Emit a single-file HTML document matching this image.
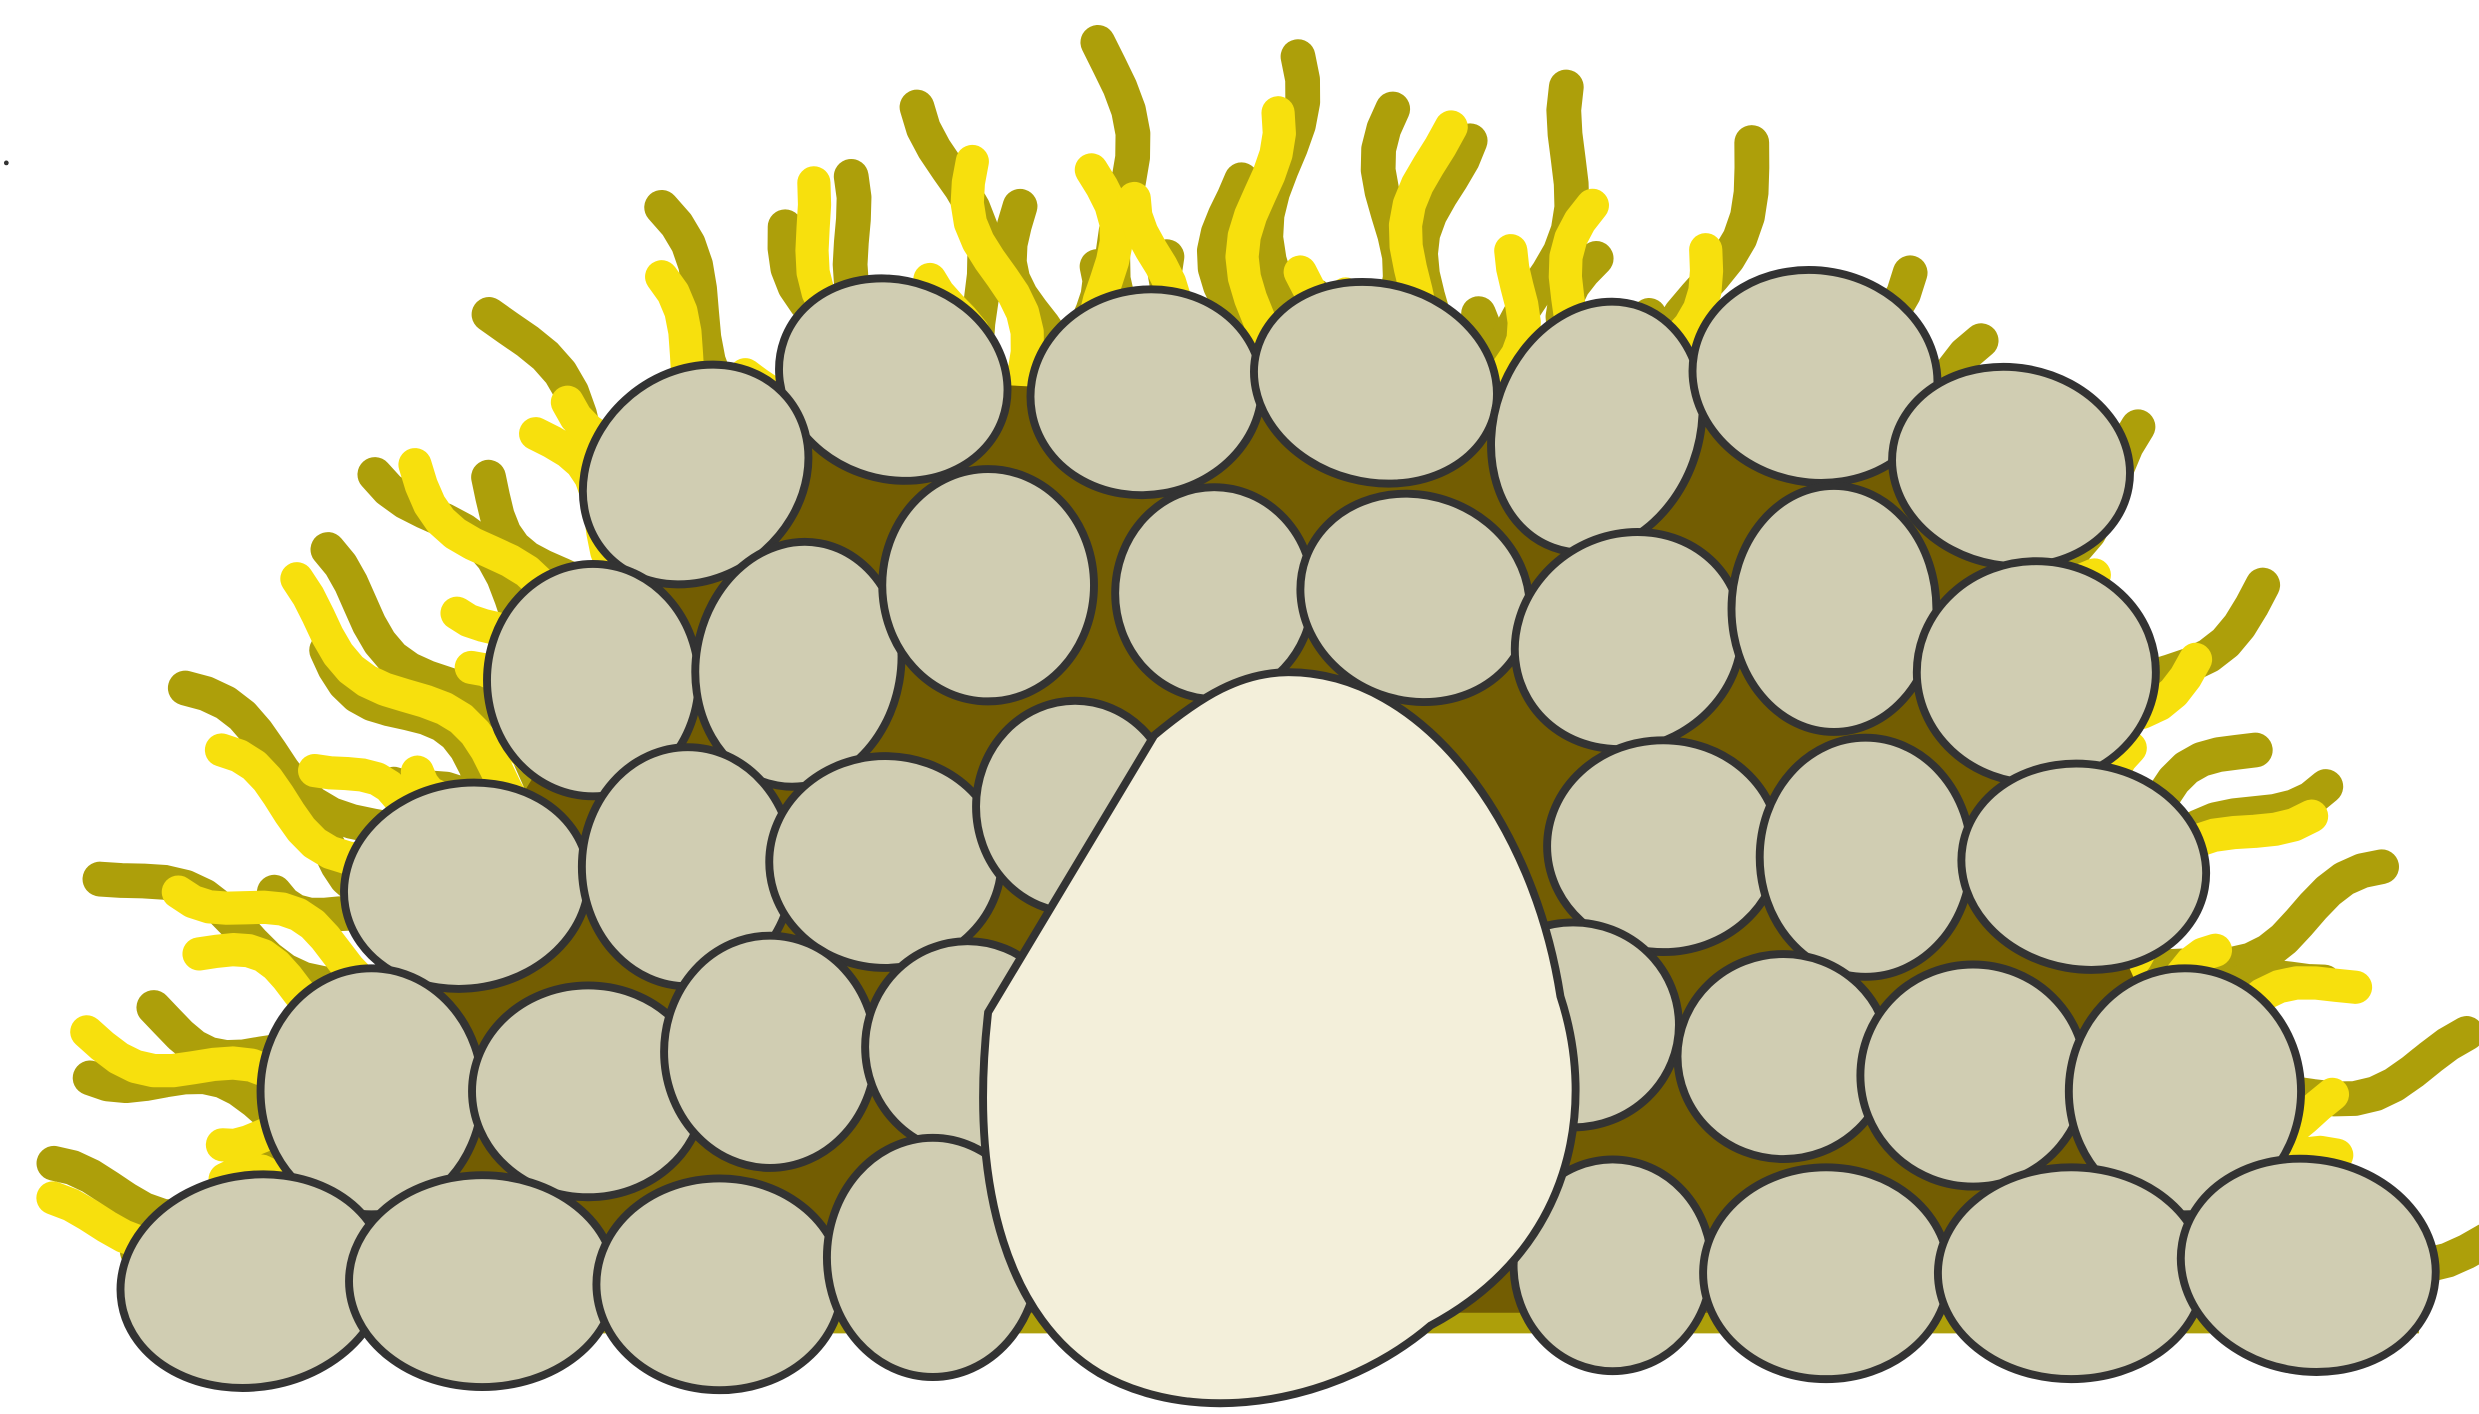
<!DOCTYPE html>
<html>
<head>
<meta charset="utf-8">
<style>
html,body{margin:0;padding:0;background:#fff;width:2479px;height:1414px;overflow:hidden}
svg{display:block}
</style>
</head>
<body>
<svg id="art" width="2479" height="1414" viewBox="0 0 1568 894" preserveAspectRatio="none" xmlns="http://www.w3.org/2000/svg">
  <g id="olive" fill="none" stroke="#ad9f0a" stroke-width="22" stroke-linecap="round" stroke-linejoin="round"></g>
  <g id="yellow" fill="none" stroke="#f7e00d" stroke-width="21" stroke-linecap="round" stroke-linejoin="round"></g>
  <line x1="90" y1="832" x2="1530" y2="832" stroke="#ad9f0a" stroke-width="22"/>
  <path fill="#735d02"
    d="M160,830 L160,810 L235,690 L295,560 L375,430 L440,300 L565,240 L725,248 L870,242 L1010,270 L1148,238 L1272,295 L1288,425 L1318,548 L1382,690 L1460,800 L1460,830 Z"/>
  <g id="cells" fill="#d0cdb2" stroke="#333" stroke-width="5"></g>
  <path fill="#f3efda" stroke="#333" stroke-width="5"
    d="M815,425 C900,425 970,520 987,630 C1010,700 995,790 905,838 C850,885 760,905 695,868 C640,835 612,755 625,640 L730,465 C760,440 785,425 815,425 Z"/>
  <circle cx="4" cy="103" r="1.5" fill="#333"/>
</svg>
<script>
var NS='http://www.w3.org/2000/svg';
function hairs(gid,count,cx,cy,rx0,ry0,rx1,ry1,a0,a1,phase){
  var g=document.getElementById(gid);
  for(var i=0;i<count;i++){
    var t=a0+(a1-a0)*i/(count-1);
    var dx=Math.sin(t),dy=-Math.cos(t);
    var px=-dy,py=dx;
    var d='';
    var var1=0.9+0.1*Math.sin(i*2.3+phase);
    for(var s=0;s<=24;s++){
      var f=s/24;
      var rx=rx0+(rx1*var1-rx0)*f, ry=ry0+(ry1*var1-ry0)*f;
      var off=11*Math.sin(f*Math.PI*4+i*1.7+phase);
      var x=cx+dx*rx+px*off, y=cy+dy*ry+py*off;
      d+=(s?'L':'M')+x.toFixed(1)+','+y.toFixed(1);
    }
    var p=document.createElementNS(NS,'path');
    p.setAttribute('d',d);
    
    
    g.appendChild(p);
  }
}
hairs('olive',62,795,860,480,480,790,840,-1.48,1.48,0);
hairs('yellow',60,780,855,470,470,755,790,-1.46,1.46,1.3);

var cells=[
 [565,240,68,58,20],[725,248,68,60,-10],[870,242,72,58,15],[1010,270,60,75,20],[1148,238,72,62,10],[440,300,70,60,-40],[1272,295,70,58,10],
 [375,430,62,68,0],[505,420,60,72,10],[625,370,62,68,0],[768,375,58,62,0],[895,378,68,60,20],[1030,405,68,62,-30],[1160,385,60,72,0],[1288,425,70,65,0],
 [295,560,72,60,-10],[435,548,62,70,0],[560,545,68,62,0],[680,510,58,62,0],[1052,535,68,62,0],[1180,542,62,70,0],[1318,548,72,60,10],
 [235,690,65,72,0],[372,690,68,62,0],[487,665,62,68,0],[612,662,60,62,0],[995,648,62,60,0],[1128,668,62,60,0],[1248,680,66,65,0],[1382,690,68,72,0],
 [160,810,78,62,-10],[305,810,78,62,0],[455,812,72,62,0],[590,795,62,70,0],[1020,800,58,62,0],[1155,805,72,62,0],[1310,805,78,62,0],[1460,800,75,62,10]
];
var cg=document.getElementById('cells');
cells.forEach(function(c){
  var e=document.createElementNS(NS,'ellipse');
  e.setAttribute('cx',c[0]);e.setAttribute('cy',c[1]);
  e.setAttribute('rx',c[2]*1.08);e.setAttribute('ry',c[3]*1.08);
  e.setAttribute('transform','rotate('+c[4]+' '+c[0]+' '+c[1]+')');
  
  
  cg.appendChild(e);
});
</script>
</body>
</html>
